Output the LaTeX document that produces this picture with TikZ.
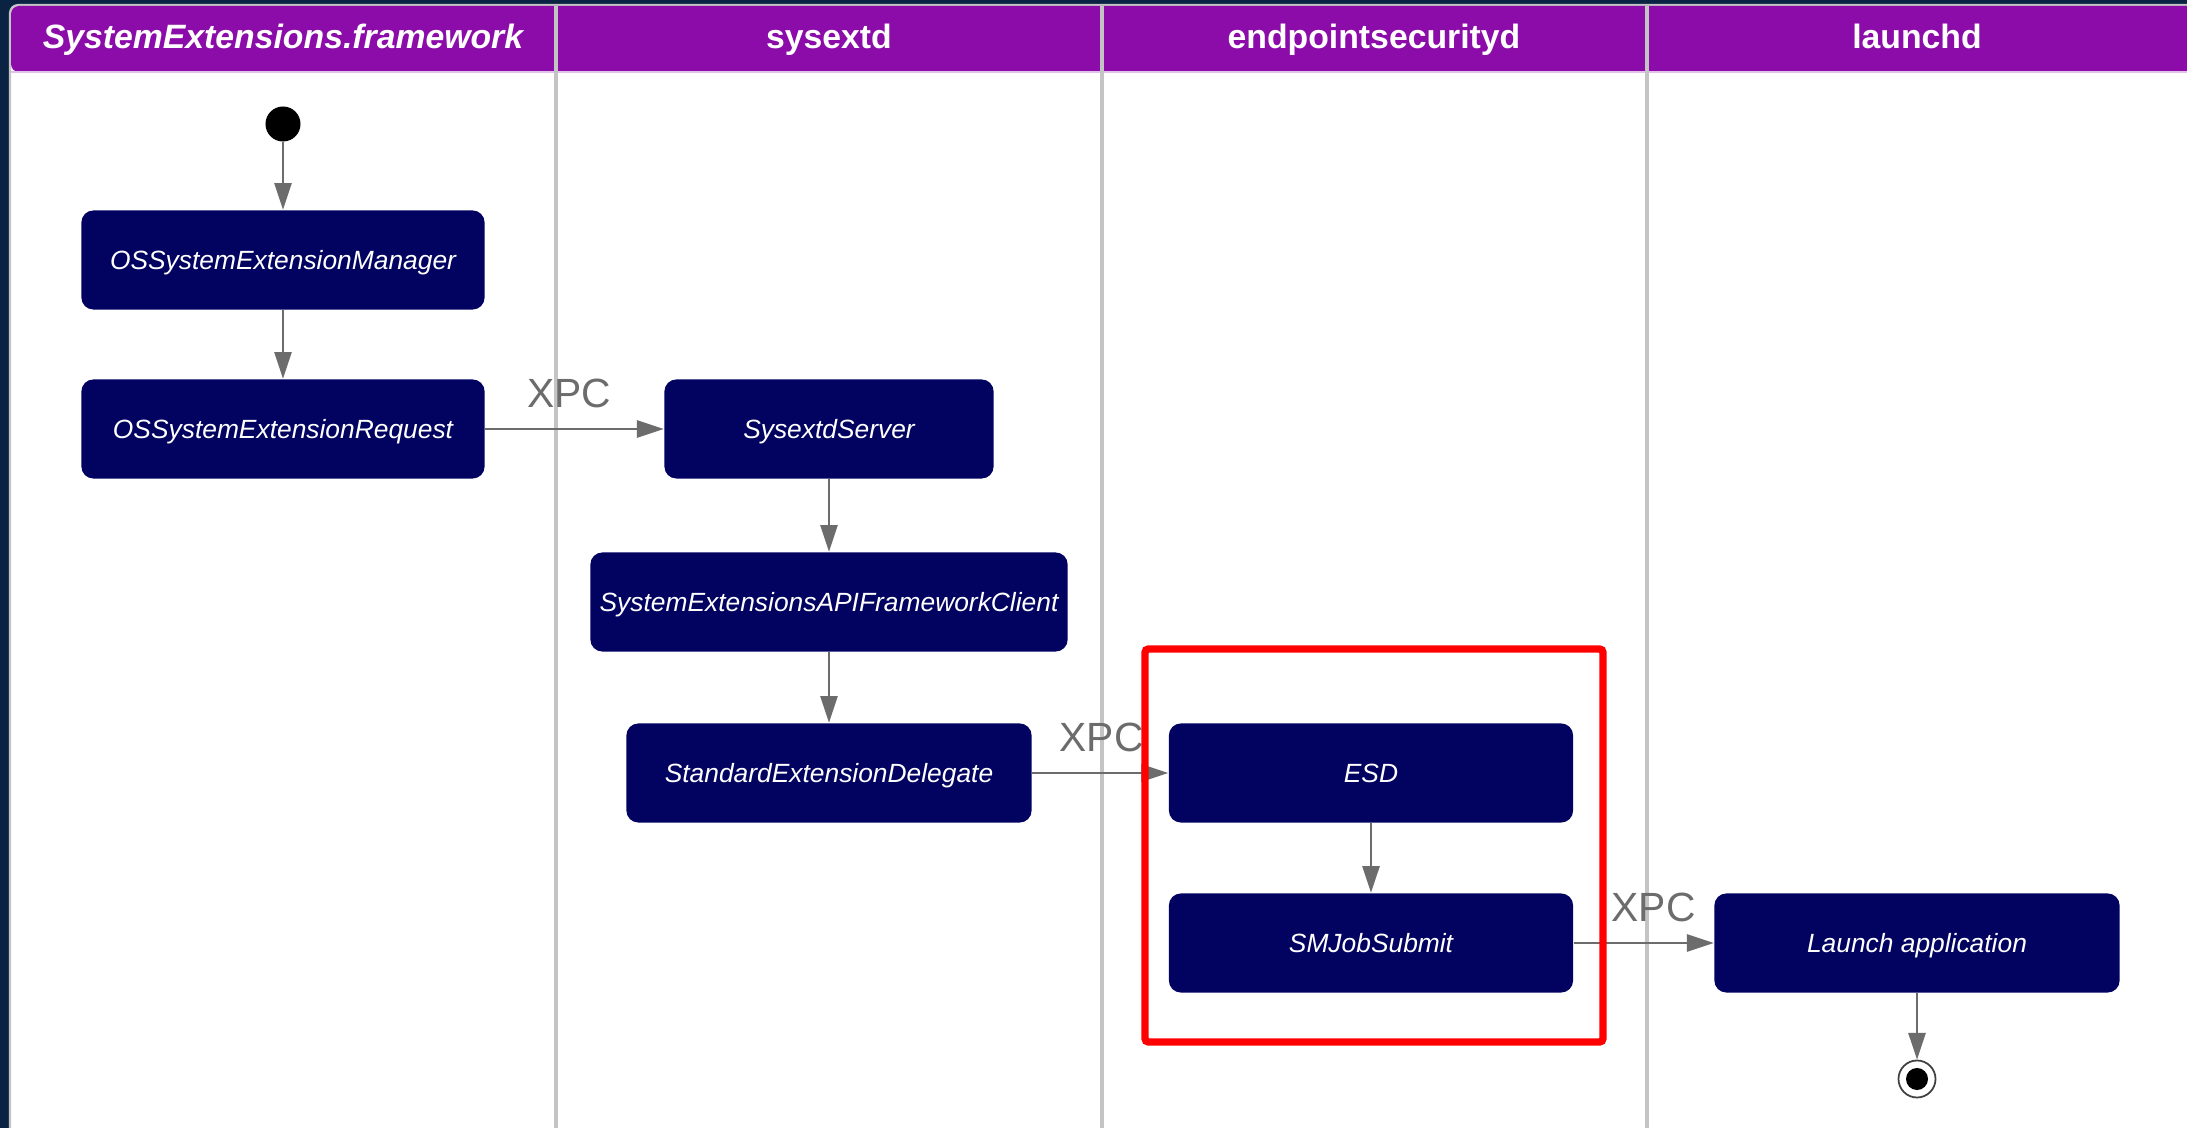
\documentclass[tikz,border=0pt]{standalone}
\usepackage{fontspec}
\setmainfont{Liberation Sans}
\usetikzlibrary{positioning,arrows.meta}
\definecolor{night}{HTML}{0B2343}
\definecolor{lanehd}{HTML}{8B0CA9}
\definecolor{navy}{HTML}{020261}
\definecolor{wire}{HTML}{6C6C6C}
\definecolor{rule}{HTML}{C4C4C4}
\definecolor{spot}{HTML}{FF0000}

\begin{document}
\begin{tikzpicture}[x=0.01cm,y=-0.01cm,
  act/.style={rectangle,rounded corners=3.4pt,fill=navy,text=white,inner sep=0pt,
    text height=5.4pt,text depth=0pt,
    minimum height=0.99cm,font=\fontsize{7.5}{9}\selectfont\itshape},
  head/.style={text=white,anchor=base,font=\fontsize{9.6}{11}\selectfont\bfseries},
  flow/.style={draw=wire,line width=0.57pt,-{Triangle[length=7.6pt,width=4.9pt]}},
  xpc/.style={text=wire,font=\fontsize{11.6}{13}\selectfont,above=2.4pt}
]
\useasboundingbox (0,0) rectangle (2187,1128);
% ---- frame and swimlanes
\begin{scope}
\clip (0,0) rectangle (2187,1128);
\fill[night] (0,0) rectangle (2187,1128);
\draw[rule,fill=white,line width=0.6pt,rounded corners=0.08cm] (10,5) rectangle (2220,1160);
\fill[lanehd,rounded corners=0.08cm] (11,6) rectangle (2220,72);
\draw[lanehd!25,line width=0.6pt] (11,72) -- (2187,72);
\foreach \x in {556,1102,1647}
  \draw[rule,line width=0.9pt] (\x,6) -- (\x,1128);
\end{scope}
\foreach \x/\t in {283/{\itshape SystemExtensions.framework}, 829/sysextd,
                   1374/endpointsecurityd, 1917/launchd}
  \node[head] at (\x,49) {\t};
% ---- actions
\node[circle,fill=black,minimum size=0.35cm,inner sep=0pt] (init) at (283,124) {};
\node[act,minimum width=4.03cm] (mgr) at (283,260) {OSSystemExtensionManager};
\node[act,minimum width=4.03cm] (req) at (283,429) {OSSystemExtensionRequest};
\node[act,minimum width=3.29cm] (srv) at (829,429) {SysextdServer};
\node[act,minimum width=4.77cm] (cli) at (829,602) {SystemExtensionsAPIFrameworkClient};
\node[act,minimum width=4.05cm] (dlg) at (829,773) {StandardExtensionDelegate};
\node[act,minimum width=4.04cm] (esd) at (1371,773) {ESD};
\node[act,minimum width=4.04cm] (smj) at (1371,943) {SMJobSubmit};
\node[act,minimum width=4.05cm] (app) at (1917,943) {Launch application};
\node[circle,draw=black!75,fill=white,line width=0.5pt,minimum size=0.37cm,inner sep=0pt] (fin) at (1917,1079) {};
\node[circle,fill=black,minimum size=0.22cm,inner sep=0pt] (fincore) at (fin) {};
% ---- flows
\draw[flow] (init) -- (mgr);
\draw[flow] (mgr) -- (req);
\draw[flow] (req) -- node[xpc,pos=0.47] {XPC} (srv);
\draw[flow] (srv) -- (cli);
\draw[flow] (cli) -- (dlg);
\draw[flow] (dlg) -- node[xpc,pos=0.51] {XPC} (esd);
\draw[flow] (esd) -- (smj);
\draw[flow] (smj) -- node[xpc,pos=0.57] {XPC} (app);
\draw[flow] (app) -- (fin);
% ---- highlight
\draw[spot,line width=2.1pt,rounded corners=1pt] (1145,649) rectangle (1603,1042);
\end{tikzpicture}
\end{document}
